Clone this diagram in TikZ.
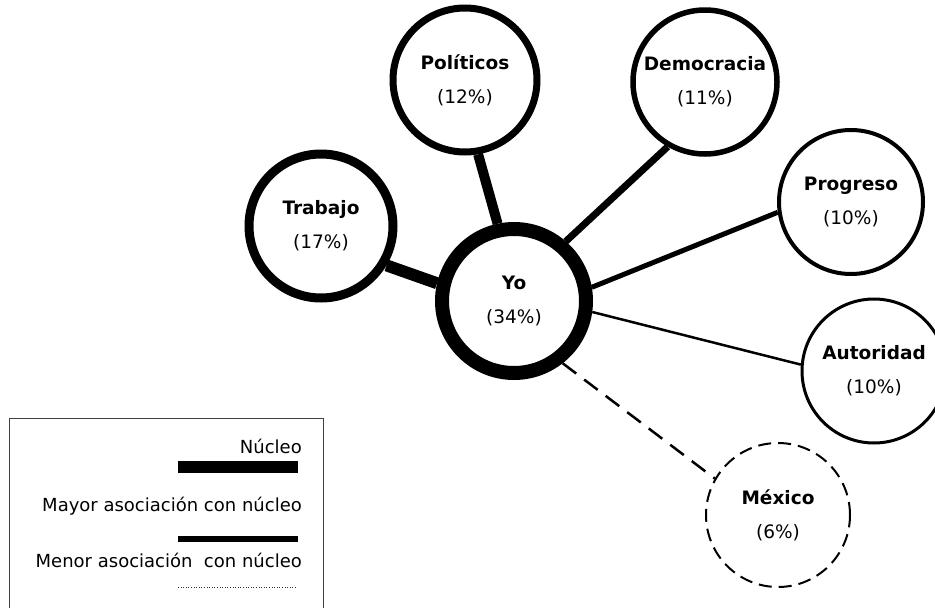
\documentclass[tikz,border=0pt]{standalone}
\usepackage{fontspec}
\setmainfont{DejaVu Sans}
\begin{document}
\begin{tikzpicture}[x=1pt,y=-1pt,
  concept/.style={circle,draw,fill=white,minimum size=144pt,inner sep=0pt,
    align=center,font=\fontsize{18.5}{34}\selectfont},
  link/.style={line cap=butt},
  legendtext/.style={anchor=base east,inner sep=0pt,font=\fontsize{18}{20}\selectfont},
]
\useasboundingbox (0,0) rectangle (935,608);

% concept circles; line width grows with the weight of each concept
\node[concept,line width=14pt] (yo) at (514,301) {\textbf{Yo}\\(34\%)};
\node[concept,line width=9pt] (trabajo) at (321,226) {\textbf{Trabajo}\\(17\%)};
\node[concept,line width=7pt] (politicos) at (465,80) {\textbf{Políticos}\\(12\%)};
\node[concept,line width=5.5pt] (democracia) at (705,82) {\textbf{Democracia}\\(11\%)};
\node[concept,line width=4pt] (progreso) at (851,202) {\textbf{Progreso}\\(10\%)};
\node[concept,line width=3pt] (autoridad) at (874,371) {\textbf{Autoridad}\\(10\%)};
\node[concept,line width=2pt,dash pattern=on 13pt off 7pt] (mexico) at (778,515) {\textbf{México}\\(6\%)};

% links to the core
\draw[link,line width=12pt] (yo.167) -- (trabajo.-31);
\draw[link,line width=10pt] (yo.102) -- (politicos.-80);
\draw[link,line width=7pt] (yo.49) -- (democracia.-120);
\draw[link,line width=5pt] (yo.10) -- (progreso.188);
\draw[link,line width=2.5pt] (yo.-8) -- (autoridad.175);
\draw[link,line width=2.5pt,dash pattern=on 17pt off 10pt] (yo.-52) -- (mexico.150);

% legend
\draw[black!75,line width=0.8pt] (9,608) -- (9,418) -- (323,418) -- (323,608);
\node[legendtext] (lnucleo) at (302,453) {Núcleo};
\node[legendtext] (lmayor) at (302,511) {Mayor asociación con núcleo};
\node[legendtext] (lmenor) at (302,567) {Menor asociación\ \ con núcleo};
\coordinate (b1a) at (178,467); \coordinate (b1b) at (298,467);
\coordinate (b2a) at (178,539); \coordinate (b2b) at (298,539);
\coordinate (b3a) at (178,587); \coordinate (b3b) at (296,587);
\draw[line width=12pt] (b1a) -- (b1b);
\draw[line width=6pt] (b2a) -- (b2b);
\draw[black!80,line width=1pt,dash pattern=on 1pt off 1.6pt] (b3a) -- (b3b);
\end{tikzpicture}
\end{document}
